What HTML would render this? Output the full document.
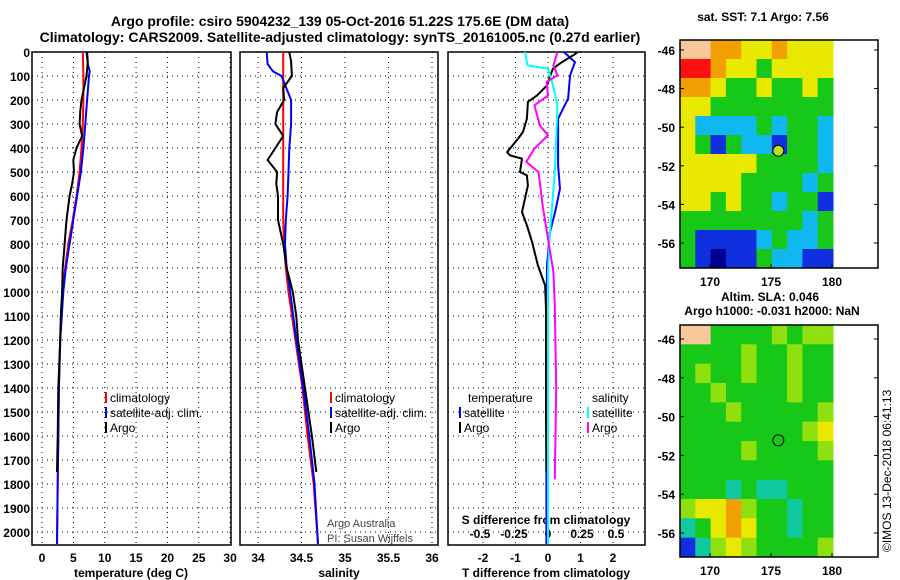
<!DOCTYPE html>
<html><head><meta charset="utf-8"><style>
body{margin:0;background:#fff;}
svg{display:block;font-family:"Liberation Sans",sans-serif;}
.b{font-weight:bold;}
</style></head><body>
<svg id="c" width="900" height="580" viewBox="0 0 900 580" xmlns="http://www.w3.org/2000/svg">
<text x="340" y="26" text-anchor="middle" font-size="14" class="b">Argo profile: csiro 5904232_139 05-Oct-2016 51.22S 175.6E (DM data)</text>
<text x="340" y="42" text-anchor="middle" font-size="14" class="b">Climatology: CARS2009. Satellite-adjusted climatology: synTS_20161005.nc (0.27d earlier)</text>
<g id="g"></g>
</svg>
<script>
// ---- data ----
const depthTicks=[0,100,200,300,400,500,600,700,800,900,1000,1100,1200,1300,1400,1500,1600,1700,1800,1900,2000];
const tempTicks=[0,5,10,15,20,25,30];
const salTicks=[34,34.5,35,35.5,36];
const tdTicks=[-2,-1,0,1,2];
const sdTicks=[-0.5,-0.25,0,0.25,0.5];
const sdTickLabels=["-0.5","-0.25","0","0.25","0.5"];
const salTickLabels=["34","34.5","35","35.5","36"];

const argoDepth=[0,40,100,150,200,250,300,350,400,450,500,550,600,700,800,900,1000,1100,1200,1400,1600,1750];
const argoTemp=[7.2,7.3,7.1,6.7,6.3,6.1,6.0,6.4,5.5,5.0,5.1,4.8,4.4,3.9,3.6,3.3,3.2,3.0,2.9,2.6,2.5,2.4];
const climDepth=[0,100,200,300,400,500,600,700,800,900,1000,1200,1400,1600,1800,2050];
const climTemp=[6.5,6.6,6.6,6.5,6.3,6.0,5.5,4.9,4.2,3.7,3.3,2.9,2.7,2.6,2.5,2.4];
const satDepth=[0,50,80,100,200,300,400,500,600,700,800,900,1000,1200,1400,1600,1800,2050];
const satTemp=[7.1,7.3,7.6,7.5,7.2,6.9,6.6,6.2,5.6,5.0,4.4,3.8,3.4,2.9,2.7,2.6,2.5,2.4];

const argoSal=[34.36,34.38,34.39,34.29,34.30,34.22,34.20,34.29,34.20,34.11,34.22,34.21,34.23,34.23,34.29,34.33,34.40,34.44,34.46,34.54,34.62,34.67];
const climSal=[34.29,34.29,34.29,34.29,34.29,34.29,34.29,34.29,34.30,34.32,34.35,34.43,34.51,34.57,34.64,34.69];
const satSal=[34.10,34.11,34.17,34.27,34.38,34.38,34.36,34.35,34.34,34.32,34.31,34.33,34.37,34.44,34.52,34.59,34.65,34.69];

const tdArgoDepth=[0,14,42,69,139,181,208,278,333,361,417,431,444,500,514,556,667,722,792,889,972,1069,1300,1500,1750];
const tdArgo=[0.92,0.77,0.43,0.15,-0.03,-0.34,-0.62,-0.65,-0.77,-0.92,-1.26,-1.17,-0.8,-0.86,-0.65,-0.62,-0.8,-0.65,-0.49,-0.31,-0.09,-0.06,-0.06,-0.06,-0.05];
const tdSatDepth=[0,42,97,194,278,375,472,569,667,750,889,1200,2050];
const tdSat=[0.49,0.83,0.68,0.62,0.31,0.31,0.31,0.37,0.22,0.06,-0.03,-0.05,-0.05];
const sdArgoDepth=[0,56,97,125,181,222,306,347,403,458,500,542,639,778,917,1056,1400,1780];
const sdArgo=[0.07,0.04,0.07,-0.01,0,-0.1,-0.06,0,-0.1,-0.16,-0.07,-0.06,-0.04,0,0.04,0.05,0.06,0.05];
const sdSatDepth=[0,56,69,125,222,361,500,639,778,917,2050];
const sdSat=[-0.17,-0.15,0,0.03,0.07,0.06,0.05,0.03,0.01,0,0];

const lonTicks=[170,175,180];
const latTicks=[-46,-48,-50,-52,-54,-56];
const sstGrid=["XXOOYYOYYY","RROYYGYYYY","OOYGGYGGYG","YYGGGGGGGG","YCCCCGCGGC","YGBGCCBGGC","YYYYYGGGGC","YYYYGGGGCG","YYGYGGCGGB","GGGGGGGGCG","GBBBBCGCCG","GBDBBGCCBB"];
const slaGrid=["XXGGGGLGLL","GGGGLGGLGG","GLGGLGGLGG","GGLGGGGLGG","GGGLGGGGGL","GGGGGGGGLY","GGGGLGGGGL","GGGGGGGGGG","GGGTGTTGGG","LYYOLGGTGG","TGYOYGGTGG","BTLYLGGGGL"];
const colorCodes={X:"#f8c89a",D:"#000090",B:"#1030e0",C:"#10b8f0",T:"#10c8a0",G:"#18c818",L:"#90e010",Y:"#e8e800",O:"#f0a000",R:"#ff1010"};

// ---- drawing ----
const NS="http://www.w3.org/2000/svg";
const G=document.getElementById('g');
function el(tag,attrs,parent){const e=document.createElementNS(NS,tag);for(const k in attrs)e.setAttribute(k,attrs[k]);(parent||G).appendChild(e);return e;}
function txt(x,y,s,attrs){const e=el('text',Object.assign({x:x,y:y},attrs||{}));e.textContent=s;return e;}

const yTop=52, yBot=545;
const yD=d=>yTop+d*0.24;
const panels=[{x0:32,x1:231,f:v=>42+v*6.27},{x0:240,x1:438,f:v=>258+(v-34)*87},{x0:448,x1:645,f:v=>548+v*32.5}];
const sdX=v=>548+v*136;

panels.forEach((p,i)=>{
  const fr=el('rect',{x:p.x0,y:yTop,width:p.x1-p.x0,height:yBot-yTop,fill:'none',stroke:'#000','stroke-width':1.5});
  
  
  depthTicks.forEach(d=>{
    if(d>0){const l=el('line',{x1:p.x0,x2:p.x1,y1:yD(d),y2:yD(d),stroke:'#000','stroke-dasharray':'1,4','stroke-width':1});
    
    }
  });
});
depthTicks.forEach(d=>{
  const t=txt(30,yD(d)+5,String(d),{'text-anchor':'end','font-size':12,'font-weight':'bold'});
  
  
});
function vgrid(p,ticks,labels,f){
  ticks.forEach((v,k)=>{
    const x=f(v);
    const l=el('line',{x1:x,x2:x,y1:yTop,y2:yBot,stroke:'#000','stroke-dasharray':'1,4'});
    
    
    const t=txt(x,562,labels[k],{'text-anchor':'middle','font-size':12,'font-weight':'bold'});
    
    
  });
}
vgrid(panels[0],tempTicks,tempTicks.map(String),panels[0].f);
vgrid(panels[1],salTicks,salTickLabels,panels[1].f);
vgrid(panels[2],tdTicks,tdTicks.map(String),panels[2].f);
sdTicks.forEach((v,k)=>{
  const t=txt(sdX(v),538,sdTickLabels[k],{'text-anchor':'middle','font-size':12,'font-weight':'bold'});
  
  
});
[["temperature (deg C)",131],["salinity",339],["T difference from climatology",546]].forEach(a=>{
  const t=txt(a[1],577,a[0],{'text-anchor':'middle','font-size':12,'font-weight':'bold'});
  
  
});
{const t=txt(546,524,"S difference from climatology",{'text-anchor':'middle','font-size':12,'font-weight':'bold'});

}

function line(ds,vs,fx,color,name){
  const pts=ds.map((d,k)=>fx(vs[k]).toFixed(1)+','+yD(d).toFixed(1)).join(' ');
  const l=el('polyline',{points:pts,fill:'none',stroke:color,'stroke-width':2,'stroke-linejoin':'round'});
  
  
}
line(climDepth,climTemp,panels[0].f,'#f00','temp-climatology-line');
line(satDepth,satTemp,panels[0].f,'#00f','temp-satellite-line');
line(argoDepth,argoTemp,panels[0].f,'#000','temp-argo-line');
line(climDepth,climSal,panels[1].f,'#f00','sal-climatology-line');
line(satDepth,satSal,panels[1].f,'#00f','sal-satellite-line');
line(argoDepth,argoSal,panels[1].f,'#000','sal-argo-line');
line(tdSatDepth,tdSat,panels[2].f,'#00f','tdiff-satellite-line');
line(tdArgoDepth,tdArgo,panels[2].f,'#000','tdiff-argo-line');
line(sdSatDepth,sdSat,sdX,'#0ff','sdiff-satellite-line');
line(sdArgoDepth,sdArgo,sdX,'#f0f','sdiff-argo-line');

function legend(x,y,label,color){
  const r=el('rect',{x:x,y:y-10,width:2,height:11,fill:color});
  
  
  const t=txt(x+5,y,label,{'font-size':12});
  
  
}
[[105,'#f00','climatology'],[105,'#00f','satellite-adj. clim.'],[105,'#000','Argo']].forEach((a,k)=>legend(a[0],402+k*15,a[2],a[1]));
[[330,'#f00','climatology'],[330,'#00f','satellite-adj. clim.'],[330,'#000','Argo']].forEach((a,k)=>legend(a[0],402+k*15,a[2],a[1]));
{const t=txt(468,402,'temperature',{'font-size':12});}
{const t=txt(592,402,'salinity',{'font-size':12});}
legend(459,417,'satellite','#00f');legend(459,432,'Argo','#000');
legend(587,417,'satellite','#0ff');legend(587,432,'Argo','#f0f');
{const t=txt(327,527,'Argo Australia',{'font-size':11,fill:'#444'});}
{const t=txt(327,542,'PI: Susan Wijffels',{'font-size':11,fill:'#444'});}

// maps
const lonX=l=>710+(l-170)*12.2;
function map(y0,y1,lat46,lat56,grid,name,circleFill){
  const latY=la=>lat46+(-46-la)*(lat56-lat46)/10;
  const cw=(833-680)/10, ch=(y1-y0)/12;
  grid.forEach((row,r)=>{row.split('').forEach((c,k)=>{
    const rc=el('rect',{x:(680+k*cw).toFixed(1),y:(y0+r*ch).toFixed(1),width:(cw+0.5).toFixed(1),height:(ch+0.5).toFixed(1),fill:colorCodes[c]});
    
    
  });});
  const fr=el('rect',{x:680,y:y0,width:198,height:y1-y0,fill:'none',stroke:'#000','stroke-width':1.5});
  
  
  latTicks.forEach(la=>{
    const t=txt(675,latY(la)+5,String(la),{'text-anchor':'end','font-size':12,'font-weight':'bold'});
    
    
    el('line',{x1:680,x2:684,y1:latY(la),y2:latY(la),stroke:'#000'});
    el('line',{x1:874,x2:878,y1:latY(la),y2:latY(la),stroke:'#000'});
  });
  lonTicks.forEach(lo=>{
    const t=txt(lonX(lo),y1+18,String(lo),{'text-anchor':'middle','font-size':12,'font-weight':'bold'});
    
    
    el('line',{x1:lonX(lo),x2:lonX(lo),y1:y1,y2:y1-4,stroke:'#000'});
  });
  const c=el('circle',{cx:lonX(175.6),cy:latY(-51.22),r:5.5,fill:circleFill,stroke:'#000'});
  
  
}
map(40,268,50,243,sstGrid,'sst-map','#b8e020');
map(325,557,339,533,slaGrid,'sla-map','none');
{const t=txt(763,21,'sat. SST: 7.1 Argo: 7.56',{'text-anchor':'middle','font-size':12,'font-weight':'bold'});}
{const t=txt(770,301,'Altim. SLA: 0.046',{'text-anchor':'middle','font-size':12,'font-weight':'bold'});}
{const t=txt(772,315,'Argo h1000: -0.031 h2000: NaN',{'text-anchor':'middle','font-size':12,'font-weight':'bold'});}
{const t=txt(0,0,'©IMOS 13-Dec-2018 06:41:13',{'font-size':12,transform:'translate(891,552) rotate(-90)'});}
</script>
</body></html>
